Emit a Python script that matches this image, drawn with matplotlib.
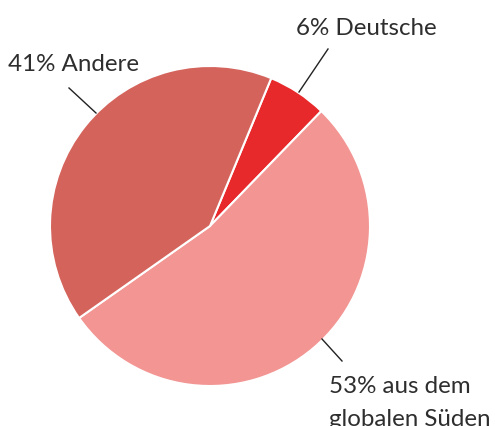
import matplotlib.pyplot as plt

# data
labels = ['Deutsche', 'aus dem\nglobalen Süden', 'Andere']
shares = [6, 53, 41]
colors = ['#e8292b', '#f29593', '#d4635b']

plt.rcParams['font.family'] = ['Lato', 'DejaVu Sans']

W, H = 495, 427
fig = plt.figure(figsize=(W / 100, H / 100), dpi=100)

# pie centre (210, 227) px, radius 160 px
cx, cy, r = 210, 227, 160
ax = fig.add_axes([(cx - r) / W, (H - cy - r) / H, 2 * r / W, 2 * r / H])
ax.pie(shares, colors=colors, startangle=67.5, counterclock=False,
       wedgeprops=dict(edgecolor='white', linewidth=1.5))
ax.set_xlim(-1, 1)
ax.set_ylim(-1, 1)
ax.axis('off')


def px(x, y):
    # pixel -> data coords of the pie axes
    return (x - cx) / r, (cy - y) / r


txt_color = '#2e2e2e'
# label text positions (first baseline) and leader lines, in pixels
label_pos = [(296, 35), (329, 393), (8, 71)]
lines = [((328, 50), (299, 93)), ((322, 340), (342, 362)), ((69, 89), (96, 114))]
line_gap = 33

for lab, v, (lx, ly), (p0, p1) in zip(labels, shares, label_pos, lines):
    for i, part in enumerate(f'{v}% {lab}'.split('\n')):
        x, y = px(lx, ly + i * line_gap)
        ax.text(x, y, part, ha='left', va='baseline', fontsize=17.4,
                color=txt_color, clip_on=False)
    (x0, y0), (x1, y1) = px(*p0), px(*p1)
    ax.plot([x0, x1], [y0, y1], color='#222222', lw=1, clip_on=False)

fig.savefig('out.png', dpi=100)
